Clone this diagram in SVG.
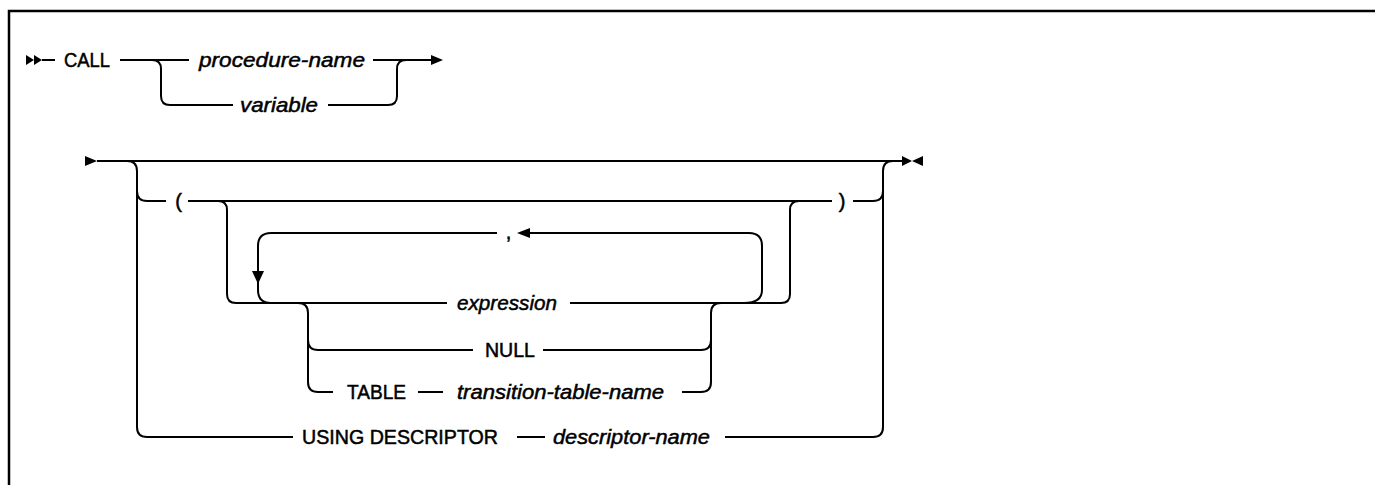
<svg xmlns="http://www.w3.org/2000/svg" width="1375" height="485" viewBox="0 0 1375 485">
<style>
  .ln{fill:none;stroke:#000;stroke-width:2}
  .ar{fill:#000;stroke:none}
  .t{font-family:"Liberation Sans",Arial,sans-serif;font-size:20px;fill:#000;stroke:#000;stroke-width:0.5}
  .i{font-style:italic;font-size:21px}
  .frame{fill:none;stroke:#000;stroke-width:2.5}
</style>
<rect width="1375" height="485" fill="#fff"/>
<path class="frame" d="M9,485 V11 H1375"/>
<g id="connectors">
  <!-- row 1 -->
  <polygon class="ar" points="26,55 34,60 26,65"/>
  <polygon class="ar" points="34,55 42,60 34,65"/>
  <path class="ln" d="M42,60 H55"/>
  <path class="ln" d="M120,60 H189"/>
  <path class="ln" d="M373,60 H432"/>
  <polygon class="ar" points="431,55 443,60 431,65"/>
  <path class="ln" d="M152,60 Q161,60 161,69 V96 Q161,105 170,105 H233"/>
  <path class="ln" d="M328,105 H388 Q397,105 397,96 V69 Q397,60 406,60"/>
  <!-- row 2 main -->
  <polygon class="ar" points="85,156 97,161 85,166"/>
  <path class="ln" d="M97,161 H902"/>
  <polygon class="ar" points="902,156 912,161 902,166"/>
  <polygon class="ar" points="923,156 912,161 923,166"/>
  <path class="ln" d="M127,161 Q137,161 137,171 V427 Q137,437 147,437 H293"/>
  <path class="ln" d="M137,191 Q137,201 147,201 H166"/>
  <path class="ln" d="M188,201 H832"/>
  <path class="ln" d="M853,201 H873 Q883,201 883,191"/>
  <path class="ln" d="M725,437 H873 Q883,437 883,427 V171 Q883,161 893,161"/>
  <path class="ln" d="M517,437 H545"/>
  <!-- parenthesised list -->
  <path class="ln" d="M218,201 Q227,201 227,210 V294 Q227,303 236,303 H447"/>
  <path class="ln" d="M570,303 H781 Q790,303 790,294 V210 Q790,201 799,201"/>
  <!-- repeat loop -->
  <path class="ln" d="M744,303 Q762,303 762,290 V246 Q762,233 749,233 H530"/>
  <polygon class="ar" points="530,228 517,233 530,238"/>
  <path class="ln" d="M497,233 H271 Q258,233 258,246 V290 Q258,303 271,303"/>
  <polygon class="ar" points="252,271 264,271 258,284"/>
  <!-- NULL / TABLE -->
  <path class="ln" d="M298,303 Q308,303 308,313 V382 Q308,392 318,392 H333"/>
  <path class="ln" d="M308,340 Q308,350 318,350 H473"/>
  <path class="ln" d="M543,350 H701 Q711,350 711,340"/>
  <path class="ln" d="M418,392 H443"/>
  <path class="ln" d="M682,392 H701 Q711,392 711,382 V313 Q711,303 721,303"/>
</g>
<g id="node-call"><text class="t" x="64" y="67" textLength="46" lengthAdjust="spacingAndGlyphs">CALL</text></g>
<g id="node-procedure-name"><text class="t i" x="199" y="67" textLength="166" lengthAdjust="spacingAndGlyphs">procedure-name</text></g>
<g id="node-variable"><text class="t i" x="240" y="112" textLength="78" lengthAdjust="spacingAndGlyphs">variable</text></g>
<g id="node-lparen"><text class="t" x="178.5" y="208" text-anchor="middle">(</text></g>
<g id="node-rparen"><text class="t" x="842" y="208" text-anchor="middle">)</text></g>
<g id="node-comma"><text class="t" x="508.5" y="239" text-anchor="middle">,</text></g>
<g id="node-expression"><text class="t i" x="457" y="310" textLength="100" lengthAdjust="spacingAndGlyphs">expression</text></g>
<g id="node-null"><text class="t" x="485" y="357" textLength="50" lengthAdjust="spacingAndGlyphs">NULL</text></g>
<g id="node-table"><text class="t" x="347" y="399" textLength="59" lengthAdjust="spacingAndGlyphs">TABLE</text></g>
<g id="node-transition-table-name"><text class="t i" x="457" y="399" textLength="207" lengthAdjust="spacingAndGlyphs">transition-table-name</text></g>
<g id="node-using-descriptor"><text class="t" x="302" y="444" textLength="196" lengthAdjust="spacingAndGlyphs">USING DESCRIPTOR</text></g>
<g id="node-descriptor-name"><text class="t i" x="553" y="444" textLength="157" lengthAdjust="spacingAndGlyphs">descriptor-name</text></g>
</svg>
